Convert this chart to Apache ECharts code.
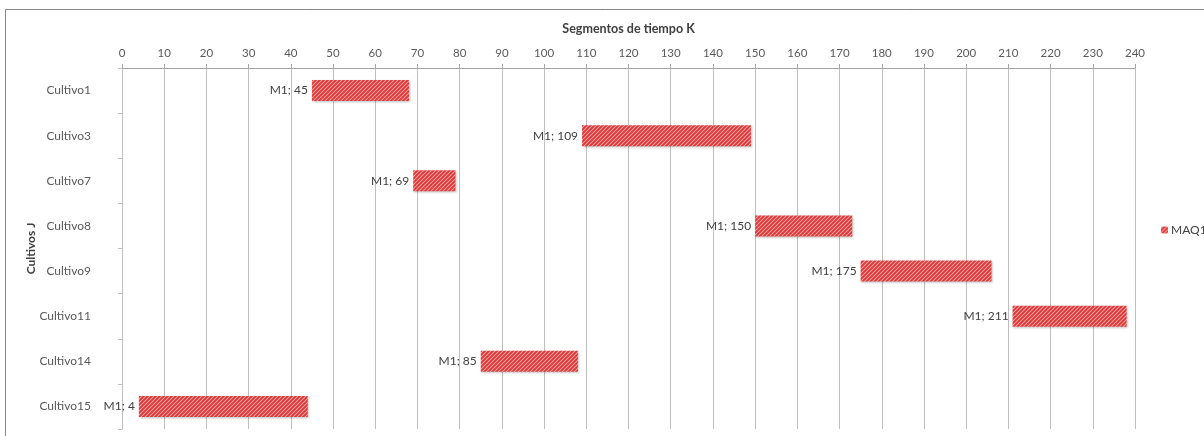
<!DOCTYPE html>
<html><head><meta charset="utf-8">
<script src="https://cdn.jsdelivr.net/npm/echarts@6/dist/echarts.min.js"></script>
<style>html,body{margin:0;padding:0;background:#fff}#c{width:1204px;height:436px}</style>
</head><body><div id="c"></div>
<script>
const categories = ['Cultivo1','Cultivo3','Cultivo7','Cultivo8','Cultivo9','Cultivo11','Cultivo14','Cultivo15'];
const starts = [45, 109, 69, 150, 175, 211, 85, 4];
const ends = [68, 149, 79, 173, 206, 238, 108, 44];
const xTicks = {min: 0, max: 240, interval: 10};
const seriesName = 'MAQ1';
const labelPrefix = 'M1';

const durations = ends.map((e, i) => e - starts[i]);

function hatch() {
  const c = document.createElement('canvas');
  c.width = 4; c.height = 4;
  const g = c.getContext('2d');
  g.fillStyle = '#f5a5a5';
  g.fillRect(0, 0, 4, 4);
  g.strokeStyle = '#e03434';
  g.lineWidth = 1.8;
  g.beginPath();
  g.moveTo(-1, 5); g.lineTo(5, -1);
  g.moveTo(-1, 1); g.lineTo(1, -1);
  g.moveTo(3, 5); g.lineTo(5, 3);
  g.stroke();
  return c;
}
const pattern = {image: hatch(), repeat: 'repeat'};
const font = 'Lato, "Open Sans", sans-serif';

const chart = echarts.init(document.getElementById('c'), null, {renderer: 'canvas'});
chart.setOption({
  animation: false,
  textStyle: {fontFamily: font},
  graphic: [{type: 'rect', shape: {x: 5.5, y: 9.5, width: 1400, height: 600}, style: {fill: 'none', stroke: '#868686', lineWidth: 1}, silent: true}],
  legend: {
    left: 1156, top: 219, itemWidth: 7, itemHeight: 7, itemGap: 4,
    data: [seriesName],
    textStyle: {color: '#404040', fontSize: 12, fontFamily: font, padding: [0, 0, 0, -2]}
  },
  grid: {left: 122, right: 69, top: 68, bottom: 7, containLabel: false},
  xAxis: {
    type: 'value', position: 'top', min: xTicks.min, max: xTicks.max, interval: xTicks.interval,
    name: 'Segmentos de tiempo K', nameLocation: 'middle', nameGap: 33,
    nameTextStyle: {fontWeight: 'bold', fontSize: 12.5, color: '#404040', fontFamily: font},
    axisLine: {show: true, lineStyle: {color: '#a6a6a6'}},
    axisTick: {show: true, length: 4, lineStyle: {color: '#a6a6a6'}},
    axisLabel: {color: '#595959', fontSize: 11.5, margin: 9, fontFamily: font},
    splitLine: {show: true, lineStyle: {color: '#bfbfbf'}}
  },
  yAxis: {
    type: 'category', inverse: true, data: categories,
    name: 'Cultivos J', nameLocation: 'middle', nameGap: 85, nameRotate: 90, nameMoveOverlap: false,
    nameTextStyle: {fontWeight: 'bold', fontSize: 12, color: '#404040', fontFamily: font},
    axisLine: {show: true, lineStyle: {color: '#bfbfbf'}},
    axisTick: {show: true, length: 4, lineStyle: {color: '#bfbfbf'}},
    axisLabel: {color: '#595959', fontSize: 12, margin: 31, fontFamily: font},
    splitLine: {show: false}
  },
  series: [
    {
      name: 'base', type: 'bar', stack: 'g', data: starts, barWidth: 21,
      itemStyle: {color: 'transparent'}, silent: true, legendHoverLink: false,
      label: {
        show: true, position: 'insideRight', distance: 4,
        formatter: p => labelPrefix + '; ' + p.value,
        color: '#404040', fontSize: 12, fontFamily: font
      }
    },
    {
      name: seriesName, type: 'bar', stack: 'g', data: durations, barWidth: 21,
      itemStyle: {color: pattern, shadowColor: 'rgba(0,0,0,0.25)', shadowBlur: 2, shadowOffsetX: 1, shadowOffsetY: 1}
    }
  ]
});
</script></body></html>
